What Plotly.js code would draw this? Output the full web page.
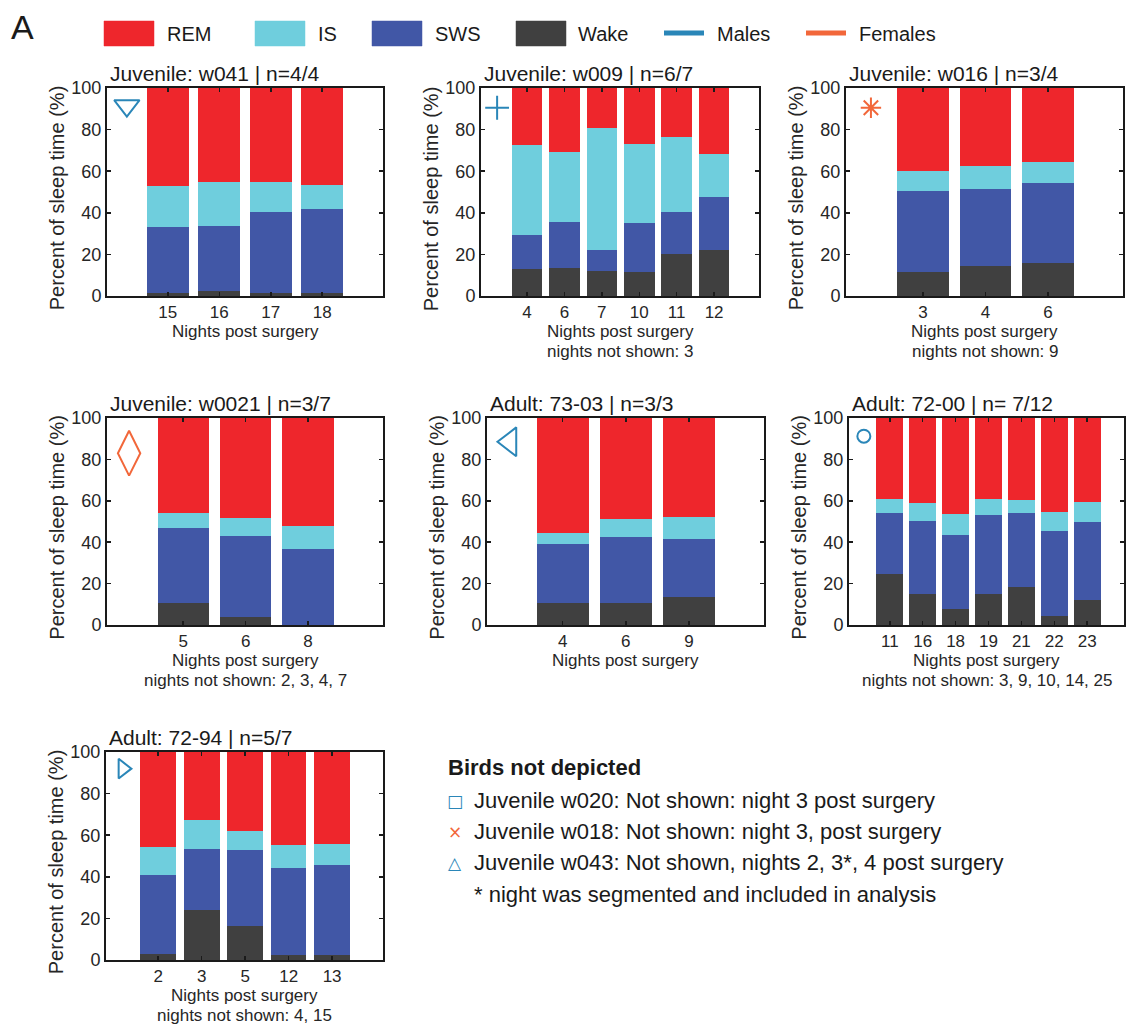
<!DOCTYPE html>
<html>
<head>
<meta charset="utf-8">
<script src="https://cdn.plot.ly/plotly-3.0.1.min.js"></script>
<style>
  html, body { margin: 0; padding: 0; background: #fff; }
  #chart { width: 1130px; height: 1027px; }
</style>
</head>
<body>
<div id="chart"></div>
<script>
// Sleep-stage composition per recorded night (percent of sleep time)
// Stage order bottom to top: Wake, SWS, IS, REM

// Juvenile w041
const nights1 = ['15', '16', '17', '18'];
const wake1 = [1.6, 2.3, 1.6, 1.6];
const sws1  = [31.5, 31.5, 38.8, 40.4];
const is1   = [20.0, 20.9, 14.3, 11.5];
const rem1  = [46.9, 45.3, 45.3, 46.5];

// Juvenile w009
const nights2 = ['4', '6', '7', '10', '11', '12'];
const wake2 = [12.8, 13.3, 12.2, 11.7, 20.1, 22.2];
const sws2  = [16.6, 22.2, 10.0, 23.3, 20.3, 25.5];
const is2   = [43.0, 33.7, 58.7, 38.0, 36.0, 20.8];
const rem2  = [27.6, 30.8, 19.1, 27.0, 23.6, 31.5];

// Juvenile w016
const nights3 = ['3', '4', '6'];
const wake3 = [11.7, 14.4, 16.1];
const sws3  = [38.9, 37.1, 38.2];
const is3   = [9.3, 11.1, 9.9];
const rem3  = [40.1, 37.4, 35.8];

// Juvenile w0021
const nights4 = ['5', '6', '8'];
const wake4 = [10.5, 3.9, 0];
const sws4  = [36.3, 39.0, 36.8];
const is4   = [7.2, 8.9, 11.1];
const rem4  = [46.0, 48.2, 52.1];

// Adult 73-03
const nights5 = ['4', '6', '9'];
const wake5 = [10.5, 10.5, 13.5];
const sws5  = [28.5, 31.8, 28.1];
const is5   = [5.5, 8.8, 10.7];
const rem5  = [55.5, 48.9, 47.7];

// Adult 72-00
const nights6 = ['11', '16', '18', '19', '21', '22', '23'];
const wake6 = [24.6, 15.2, 7.9, 15.2, 18.5, 4.5, 12.3];
const sws6  = [29.7, 35.2, 35.7, 38.0, 35.8, 40.7, 37.5];
const is6   = [6.6, 8.3, 10.0, 7.7, 6.0, 9.6, 9.5];
const rem6  = [39.1, 41.3, 46.4, 39.1, 39.7, 45.2, 40.7];

// Adult 72-94
const nights7 = ['2', '3', '5', '12', '13'];
const wake7 = [2.9, 24.1, 16.2, 2.4, 2.4];
const sws7  = [37.8, 29.3, 36.7, 41.7, 43.4];
const is7   = [13.8, 14.0, 9.3, 11.0, 9.8];
const rem7  = [45.5, 32.6, 37.8, 44.9, 44.4];

const panelTitles = [
  'Juvenile: w041 | n=4/4',
  'Juvenile: w009 | n=6/7',
  'Juvenile: w016 | n=3/4',
  'Juvenile: w0021 | n=3/7',
  'Adult: 73-03 | n=3/3',
  'Adult: 72-00 | n= 7/12',
  'Adult: 72-94 | n=5/7'
];
const panelNotes = [
  '',
  'nights not shown: 3',
  'nights not shown: 9',
  'nights not shown: 2, 3, 4, 7',
  '',
  'nights not shown: 3, 9, 10, 14, 25',
  'nights not shown: 4, 15'
];
const stageNames = ['REM', 'IS', 'SWS', 'Wake'];
const sexNames = ['Males', 'Females'];
const notDepicted = [
  'Juvenile w020: Not shown: night 3 post surgery',
  'Juvenile w018: Not shown: night 3, post surgery',
  'Juvenile w043: Not shown, nights 2, 3*, 4 post surgery'
];
const notDepictedFootnote = '* night was segmented and included in analysis';

// ---- styling ----
const FONT = 'Liberation Sans, Arial, Helvetica, sans-serif';
const TXT = '#262626';
const COL = { REM: '#ee262c', IS: '#6fcedd', SWS: '#4157a6', Wake: '#404040' };
const MALE = '#2a86b8';
const FEMALE = '#f2673a';
const W = 1130, H = 1027;
const px = v => v / W;
const py = v => 1 - v / H;

// plot boxes in pixels: left, right, top, bottom, and x range in bar units
const boxes = [
  { l: 107, r: 383, t: 88,  b: 296, x0: -1.18, x1: 4.18 },
  { l: 481, r: 759, t: 88,  b: 296, x0: -1.23, x1: 6.20 },
  { l: 846, r: 1123, t: 88, b: 296, x0: -1.23, x1: 3.20 },
  { l: 107, r: 383, t: 418, b: 625, x0: -1.22, x1: 3.20 },
  { l: 487, r: 764, t: 418, b: 625, x0: -1.20, x1: 3.19 },
  { l: 849, r: 1124, t: 418, b: 625, x0: -1.24, x1: 7.12 },
  { l: 106, r: 383, t: 752, b: 960, x0: -1.20, x1: 5.17 }
];
// bird identifier glyph per panel: symbol, colour, size, position as fraction of plot box
const idMarks = [
  { sym: 'triangle-down-open', c: MALE, s: 22, fx: 0.072, fy: 0.915 },
  { sym: 'cross-thin-open', c: MALE, s: 17, fx: 0.058, fy: 0.905 },
  { sym: 'asterisk-open', c: FEMALE, s: 17, fx: 0.090, fy: 0.905 },
  { sym: 'diamond-tall-open', c: FEMALE, s: 32, fx: 0.080, fy: 0.830 },
  { sym: 'triangle-left-open', c: MALE, s: 25, fx: 0.083, fy: 0.885 },
  { sym: 'circle-open', c: MALE, s: 13, fx: 0.054, fy: 0.912 },
  { sym: 'triangle-right-open', c: MALE, s: 17, fx: 0.061, fy: 0.920 }
];

const panels = [
  [nights1, wake1, sws1, is1, rem1],
  [nights2, wake2, sws2, is2, rem2],
  [nights3, wake3, sws3, is3, rem3],
  [nights4, wake4, sws4, is4, rem4],
  [nights5, wake5, sws5, is5, rem5],
  [nights6, wake6, sws6, is6, rem6],
  [nights7, wake7, sws7, is7, rem7]
];

const traces = [];
const layout = {
  width: W, height: H,
  margin: { l: 0, r: 0, t: 0, b: 0 },
  paper_bgcolor: '#fff', plot_bgcolor: '#fff',
  barmode: 'stack',
  showlegend: false,
  font: { family: FONT, color: TXT },
  annotations: [],
  shapes: []
};

panels.forEach((p, i) => {
  const [nights, wake, sws, is, rem] = p;
  const bx = boxes[i];
  const n = i === 0 ? '' : String(i + 1);
  const xa = 'x' + n, ya = 'y' + n;
  const idx = nights.map((_, k) => k);
  const stages = [['Wake', wake], ['SWS', sws], ['IS', is], ['REM', rem]];
  stages.forEach(([name, vals]) => {
    traces.push({
      type: 'bar', name: name, x: idx, y: vals, width: 0.82,
      xaxis: xa, yaxis: ya,
      marker: { color: COL[name], line: { width: 0 } },
      hoverinfo: 'name+y'
    });
  });
  const m = idMarks[i];
  traces.push({
    type: 'scatter', mode: 'markers', xaxis: xa, yaxis: ya,
    x: [bx.x0 + m.fx * (bx.x1 - bx.x0)], y: [m.fy * 100],
    marker: { symbol: m.sym, size: m.s, color: m.c, line: { color: m.c, width: 2 } },
    hoverinfo: 'skip'
  });

  const axCommon = {
    showline: true, linecolor: '#1a1a1a', linewidth: 2, mirror: 'ticks',
    ticks: 'inside', ticklen: 4, tickwidth: 1.5, tickcolor: '#1a1a1a',
    showgrid: false, zeroline: false, fixedrange: true
  };
  layout['xaxis' + n] = Object.assign({}, axCommon, {
    domain: [px(bx.l), px(bx.r)], anchor: ya,
    range: [bx.x0, bx.x1],
    tickmode: 'array', tickvals: idx, ticktext: nights,
    tickfont: { size: 17, color: TXT, family: FONT }
  });
  layout['yaxis' + n] = Object.assign({}, axCommon, {
    domain: [py(bx.b), py(bx.t)], anchor: xa,
    range: [0, 100],
    tickmode: 'array', tickvals: [0, 20, 40, 60, 80, 100],
    tickfont: { size: 18, color: TXT, family: FONT }
  });

  // panel title
  layout.annotations.push({
    xref: xa + ' domain', yref: ya + ' domain', x: 0, y: 1,
    xanchor: 'left', yanchor: 'bottom', xshift: 1, yshift: 1,
    text: panelTitles[i], showarrow: false,
    font: { size: 21, color: '#1a1a1a', family: FONT }
  });
  // y axis title
  layout.annotations.push({
    xref: xa + ' domain', yref: ya + ' domain', x: 0, y: 0.47,
    xanchor: 'center', yanchor: 'middle', xshift: -50,
    textangle: -90, text: 'Percent of sleep time (%)', showarrow: false,
    font: { size: 20, color: TXT, family: FONT }
  });
  // x axis title and note line
  layout.annotations.push({
    xref: xa + ' domain', yref: ya + ' domain', x: 0.5, y: 0,
    xanchor: 'center', yanchor: 'middle', yshift: -35, borderpad: 0,
    text: 'Nights post surgery', showarrow: false,
    font: { size: 17, color: TXT, family: FONT }
  });
  if (panelNotes[i]) {
    layout.annotations.push({
      xref: xa + ' domain', yref: ya + ' domain', x: 0.5, y: 0,
      xanchor: 'center', yanchor: 'middle', yshift: -55, borderpad: 0,
      text: panelNotes[i], showarrow: false,
      font: { size: 17, color: TXT, family: FONT }
    });
  }
});

// ---- figure legend along the top ----
layout.annotations.push({
  xref: 'paper', yref: 'paper', x: px(9), y: py(27), xanchor: 'left', yanchor: 'middle',
  text: 'A', showarrow: false, font: { size: 34, color: '#1a1a1a', family: FONT }
});
const stageKeyX = [104, 255, 372, 516];
const stageTextX = [165, 316, 433, 576];
stageNames.forEach((name, k) => {
  layout.shapes.push({
    type: 'rect', xref: 'paper', yref: 'paper',
    x0: px(stageKeyX[k]), x1: px(stageKeyX[k] + 50), y0: py(46), y1: py(21),
    fillcolor: COL[name], line: { width: 0.5, color: COL[name] }
  });
  layout.annotations.push({
    xref: 'paper', yref: 'paper', x: px(stageTextX[k]), y: py(34),
    xanchor: 'left', yanchor: 'middle', text: name, showarrow: false,
    font: { size: 20, color: '#1a1a1a', family: FONT }
  });
});
const sexLineX = [664, 806];
const sexTextX = [715, 857];
[MALE, FEMALE].forEach((c, k) => {
  layout.shapes.push({
    type: 'line', xref: 'paper', yref: 'paper',
    x0: px(sexLineX[k]), x1: px(sexLineX[k] + 40), y0: py(33), y1: py(33),
    line: { color: c, width: 5 }
  });
  layout.annotations.push({
    xref: 'paper', yref: 'paper', x: px(sexTextX[k]), y: py(34),
    xanchor: 'left', yanchor: 'middle', text: sexNames[k], showarrow: false,
    font: { size: 20, color: '#1a1a1a', family: FONT }
  });
});

// ---- birds not depicted ----
layout.annotations.push({
  xref: 'paper', yref: 'paper', x: px(446), y: py(767),
  xanchor: 'left', yanchor: 'middle', text: '<b>Birds not depicted</b>', showarrow: false,
  font: { size: 22, color: '#1a1a1a', family: FONT }
});
const ndGlyph = ['\u25A1', '\u00D7', '\u25B3'];
const ndColor = [MALE, FEMALE, MALE];
const ndY = [800, 831, 862];
notDepicted.forEach((t, k) => {
  layout.annotations.push({
    xref: 'paper', yref: 'paper', x: px(455), y: py(ndY[k] + 1),
    xanchor: 'center', yanchor: 'middle', text: ndGlyph[k], showarrow: false,
    font: { size: 17, color: ndColor[k], family: 'DejaVu Sans, sans-serif' }
  });
  layout.annotations.push({
    xref: 'paper', yref: 'paper', x: px(472), y: py(ndY[k]),
    xanchor: 'left', yanchor: 'middle', text: t, showarrow: false,
    font: { size: 22, color: '#1a1a1a', family: FONT }
  });
});
layout.annotations.push({
  xref: 'paper', yref: 'paper', x: px(472), y: py(894),
  xanchor: 'left', yanchor: 'middle', text: notDepictedFootnote, showarrow: false,
  font: { size: 22, color: '#1a1a1a', family: FONT }
});

Plotly.newPlot('chart', traces, layout, { displayModeBar: false, staticPlot: true });
</script>
</body>
</html>
